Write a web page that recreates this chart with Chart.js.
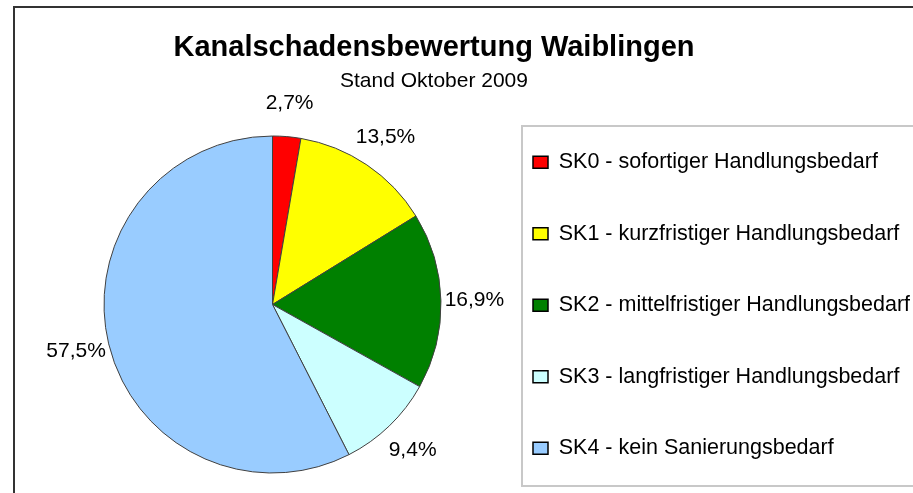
<!DOCTYPE html>
<html>
<head>
<meta charset="utf-8">
<script src="https://cdn.jsdelivr.net/npm/chart.js@4.4.0/dist/chart.umd.min.js"></script>
<style>
	html, body { margin: 0; padding: 0; background: #fff; overflow: hidden; }
	#wrap { position: relative; width: 913px; height: 493px; overflow: hidden; }
	#frame { position: absolute; left: 13px; top: 6px; width: 1000px; height: 1000px; border: 2px solid #333; }
	#chart { position: absolute; left: 0; top: 0; }
</style>
</head>
<body>
<div id="wrap">
	<div id="frame"></div>
	<canvas id="chart" width="913" height="509"></canvas>
</div>
<script>
// Kanalschadensbewertung Waiblingen, Stand Oktober 2009
const categories = [
	'SK0 - sofortiger Handlungsbedarf',
	'SK1 - kurzfristiger Handlungsbedarf',
	'SK2 - mittelfristiger Handlungsbedarf',
	'SK3 - langfristiger Handlungsbedarf',
	'SK4 - kein Sanierungsbedarf'
];
const shares = [2.7, 13.5, 16.9, 9.4, 57.5];
const colors = ['#ff0000', '#ffff00', '#008000', '#ccffff', '#99ccff'];
const chartTitle = 'Kanalschadensbewertung Waiblingen';
const chartSubtitle = 'Stand Oktober 2009';

const family = "'Liberation Sans', Arial, sans-serif";

function percentText(v) {
	return v.toFixed(1).replace('.', ',') + '%';
}

// title + subtitle are centred over the frame, not over the whole canvas
const titleShift = {
	id: 'titleShift',
	afterLayout(chart, args, opts) {
		chart.boxes.filter((b) => b.position === 'top').forEach((b) => {
			b.left += opts.dx;
			b.right += opts.dx;
		});
	}
};

// percentage text outside each slice
const sliceLabels = {
	id: 'sliceLabels',
	afterDatasetsDraw(chart, args, opts) {
		const ctx = chart.ctx,
			meta = chart.getDatasetMeta(0);
		ctx.save();
		ctx.font = opts.size + 'px ' + family;
		ctx.fillStyle = '#000';
		ctx.textAlign = 'center';
		ctx.textBaseline = 'middle';
		meta.data.forEach((arc, i) => {
			const p = arc.getProps(['x', 'y', 'startAngle', 'endAngle', 'outerRadius'], true),
				mid = (p.startAngle + p.endAngle) / 2,
				d = p.outerRadius + opts.offset;
			ctx.fillText(percentText(shares[i]), p.x + Math.cos(mid) * d, p.y + Math.sin(mid) * d);
		});
		ctx.restore();
	}
};

// grey box round the legend
const legendFrame = {
	id: 'legendFrame',
	afterDraw(chart) {
		const hb = chart.legend && chart.legend.legendHitBoxes;
		if (!hb || !hb.length) return;
		const first = hb[0],
			last = hb[hb.length - 1],
			top = first.top - 25.5,
			bottom = last.top + last.height + 27,
			ctx = chart.ctx;
		ctx.save();
		ctx.strokeStyle = '#c8c8c8';
		ctx.lineWidth = 2;
		ctx.strokeRect(first.left - 11, top, chart.width, bottom - top);
		ctx.restore();
	}
};

new Chart(document.getElementById('chart'), {
	type: 'pie',
	data: {
		labels: categories,
		datasets: [{
			data: shares,
			backgroundColor: colors,
			borderColor: '#404040',
			borderWidth: 1,
			radius: 168.5,
			hoverOffset: 0
		}]
	},
	options: {
		responsive: false,
		animation: false,
		layout: {padding: {left: 62, right: 0, top: 0, bottom: 0}},
		plugins: {
			title: {
				display: true,
				text: chartTitle,
				color: '#000',
				font: {family: family, size: 29, weight: 'bold'},
				padding: {top: 30.9, bottom: 0}
			},
			subtitle: {
				display: true,
				text: chartSubtitle,
				color: '#000',
				font: {family: family, size: 21, weight: 'normal'},
				padding: {top: 2.7, bottom: 6.4}
			},
			legend: {
				position: 'right',
				align: 'end',
				maxWidth: 430,
				labels: {
					boxWidth: 15,
					boxHeight: 12,
					padding: 50,
					color: '#000',
					font: {family: family, size: 21.5},
					generateLabels(chart) {
						const items = Chart.overrides.pie.plugins.legend.labels.generateLabels(chart);
						items.forEach((it) => {
							it.strokeStyle = '#000';
							it.lineWidth = 1.5;
						});
						return items;
					}
				}
			},
			tooltip: {enabled: false},
			titleShift: {dx: -53.5},
			sliceLabels: {size: 21, offset: 33.5}
		}
	},
	plugins: [titleShift, sliceLabels, legendFrame]
});
</script>
</body>
</html>
